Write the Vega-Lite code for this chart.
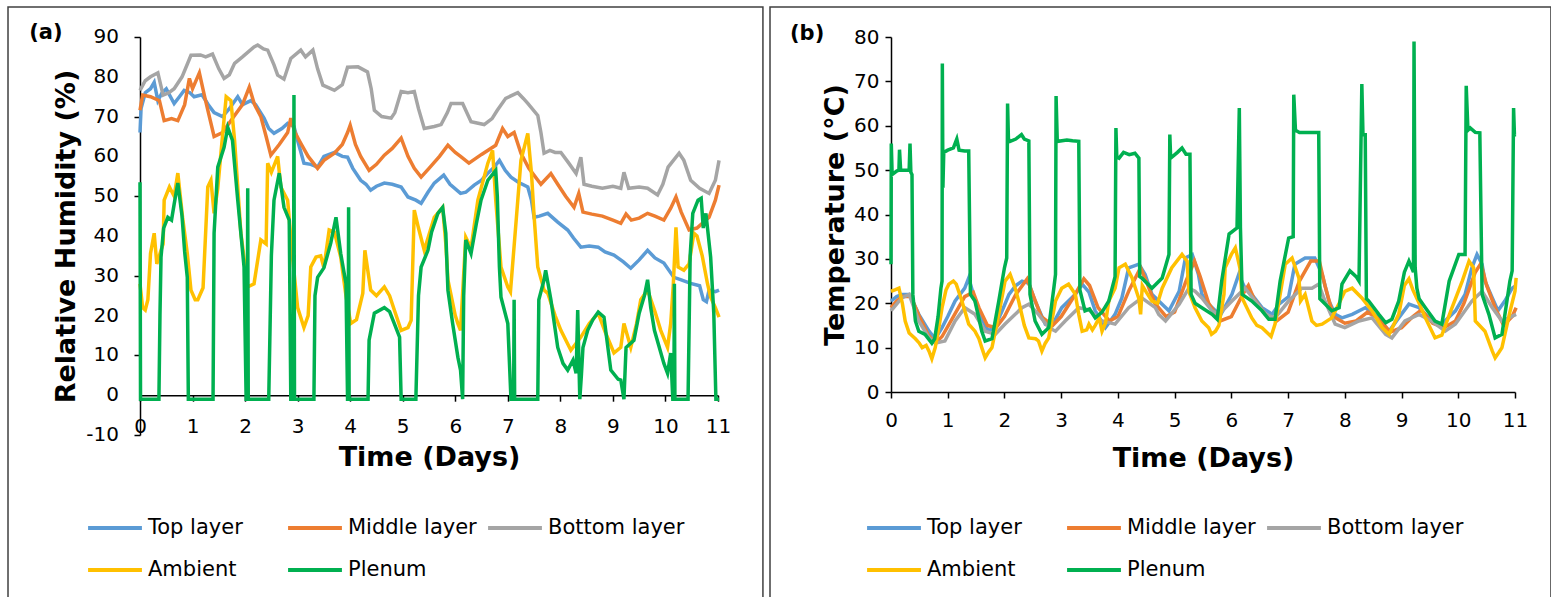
{
"$schema": "https://vega.github.io/schema/vega-lite/v6.json",
"background": "white",
"padding": {"left": 7, "top": 6, "right": 0, "bottom": 0},
"spacing": 5,
"config": {
  "view": {"stroke": null},
  "font": "DejaVu Sans",
  "axis": {"grid": false, "domainColor": "black", "domainWidth": 1.5, "tickColor": "black", "tickWidth": 1.5, "tickSize": 6, "labelOverlap": false,
    "labelFont": "DejaVu Sans", "labelFontSize": 20, "labelColor": "black", "titleFont": "DejaVu Sans", "titleFontSize": 27, "titleFontWeight": "bold", "titleColor": "black"}
},
"resolve": {"legend": {"color": "independent"}},
"datasets": {
"rLab": [{"v":-10,"s":"-10"},{"v":0,"s":"0"},{"v":10,"s":"10"},{"v":20,"s":"20"},{"v":30,"s":"30"},{"v":40,"s":"40"},{"v":50,"s":"50"},{"v":60,"s":"60"},{"v":70,"s":"70"},{"v":80,"s":"80"},{"v":90,"s":"90"}],
"rT": [{"t":0,"v":66},{"t":0.02,"v":72},{"t":0.1,"v":76},{"t":0.2,"v":77},{"t":0.27,"v":78.6},{"t":0.34,"v":74},{"t":0.42,"v":76},{"t":0.5,"v":77},{"t":0.58,"v":75},{"t":0.65,"v":73.3},{"t":0.75,"v":75},{"t":0.84,"v":76.6},{"t":0.95,"v":76},{"t":1.03,"v":75},{"t":1.18,"v":75.5},{"t":1.3,"v":73},{"t":1.41,"v":71},{"t":1.57,"v":70},{"t":1.7,"v":72},{"t":1.86,"v":75},{"t":1.95,"v":73},{"t":2.11,"v":74},{"t":2.2,"v":73},{"t":2.36,"v":69.6},{"t":2.45,"v":67},{"t":2.55,"v":65.8},{"t":2.7,"v":67},{"t":2.81,"v":68.3},{"t":2.93,"v":67.5},{"t":3.0,"v":64},{"t":3.12,"v":58.3},{"t":3.25,"v":58},{"t":3.38,"v":57.3},{"t":3.5,"v":60},{"t":3.7,"v":61},{"t":3.85,"v":60},{"t":3.95,"v":59.8},{"t":4.05,"v":57},{"t":4.2,"v":54},{"t":4.3,"v":53},{"t":4.39,"v":51.5},{"t":4.5,"v":52.5},{"t":4.65,"v":53.3},{"t":4.8,"v":53},{"t":4.97,"v":52.3},{"t":5.1,"v":49.8},{"t":5.25,"v":49},{"t":5.35,"v":48.2},{"t":5.48,"v":51},{"t":5.6,"v":53.3},{"t":5.78,"v":55.3},{"t":5.9,"v":53},{"t":6.1,"v":50.7},{"t":6.2,"v":51},{"t":6.36,"v":52.8},{"t":6.5,"v":54},{"t":6.6,"v":55.5},{"t":6.74,"v":57.3},{"t":6.84,"v":59},{"t":6.95,"v":56.5},{"t":7.06,"v":54.8},{"t":7.2,"v":53.5},{"t":7.38,"v":52.3},{"t":7.45,"v":49},{"t":7.5,"v":44.7},{"t":7.6,"v":45},{"t":7.76,"v":45.7},{"t":7.95,"v":43.5},{"t":8.14,"v":41.5},{"t":8.25,"v":39.5},{"t":8.39,"v":37.2},{"t":8.55,"v":37.5},{"t":8.72,"v":37.2},{"t":8.85,"v":36},{"t":9.02,"v":35.2},{"t":9.2,"v":33.5},{"t":9.34,"v":31.9},{"t":9.5,"v":34},{"t":9.66,"v":36.4},{"t":9.8,"v":34.5},{"t":9.97,"v":33.2},{"t":10.16,"v":29.6},{"t":10.3,"v":29},{"t":10.48,"v":28.1},{"t":10.65,"v":27.5},{"t":10.72,"v":24},{"t":10.78,"v":23.5},{"t":10.83,"v":26.4},{"t":10.95,"v":26},{"t":11.02,"v":26.4}],
"rM": [{"t":0,"v":71.6},{"t":0.05,"v":75.4},{"t":0.2,"v":75},{"t":0.37,"v":74},{"t":0.46,"v":69},{"t":0.6,"v":69.5},{"t":0.72,"v":69},{"t":0.85,"v":73},{"t":0.94,"v":79.6},{"t":1.0,"v":77},{"t":1.13,"v":81},{"t":1.23,"v":75},{"t":1.32,"v":70},{"t":1.41,"v":65},{"t":1.57,"v":66},{"t":1.8,"v":70.3},{"t":1.95,"v":73},{"t":2.08,"v":77.4},{"t":2.18,"v":73},{"t":2.3,"v":70},{"t":2.4,"v":65},{"t":2.49,"v":60.3},{"t":2.65,"v":63},{"t":2.81,"v":66},{"t":2.87,"v":69.6},{"t":2.95,"v":66},{"t":3.06,"v":63.3},{"t":3.2,"v":60},{"t":3.38,"v":57},{"t":3.5,"v":59},{"t":3.7,"v":60.8},{"t":3.85,"v":63},{"t":3.95,"v":66},{"t":4.0,"v":67.8},{"t":4.1,"v":63},{"t":4.2,"v":60},{"t":4.36,"v":56.5},{"t":4.5,"v":58},{"t":4.65,"v":60.3},{"t":4.8,"v":62},{"t":4.97,"v":64.6},{"t":5.1,"v":60},{"t":5.22,"v":57},{"t":5.35,"v":54.8},{"t":5.5,"v":57},{"t":5.7,"v":60},{"t":5.86,"v":62.8},{"t":6.0,"v":61},{"t":6.1,"v":60},{"t":6.26,"v":58.3},{"t":6.5,"v":60.5},{"t":6.77,"v":62.8},{"t":6.9,"v":67},{"t":7.0,"v":65},{"t":7.12,"v":66},{"t":7.25,"v":60.8},{"t":7.4,"v":57},{"t":7.63,"v":53},{"t":7.82,"v":55.7},{"t":7.95,"v":53},{"t":8.1,"v":50},{"t":8.26,"v":47.2},{"t":8.35,"v":50.7},{"t":8.43,"v":46},{"t":8.6,"v":45.5},{"t":8.8,"v":45},{"t":9.0,"v":44},{"t":9.15,"v":43.2},{"t":9.25,"v":45.5},{"t":9.35,"v":44},{"t":9.5,"v":44.5},{"t":9.66,"v":45.7},{"t":9.8,"v":45},{"t":9.97,"v":44},{"t":10.1,"v":47},{"t":10.2,"v":49.8},{"t":10.3,"v":46},{"t":10.45,"v":41.5},{"t":10.6,"v":42},{"t":10.83,"v":44.7},{"t":10.95,"v":49},{"t":11.02,"v":52.8}],
"rB": [{"t":0,"v":76.6},{"t":0.1,"v":79},{"t":0.2,"v":80},{"t":0.34,"v":81},{"t":0.44,"v":75.4},{"t":0.55,"v":76},{"t":0.65,"v":77},{"t":0.8,"v":80},{"t":0.97,"v":85.4},{"t":1.15,"v":85.5},{"t":1.25,"v":85},{"t":1.38,"v":85.7},{"t":1.5,"v":82},{"t":1.6,"v":79.6},{"t":1.7,"v":80.5},{"t":1.8,"v":83.4},{"t":1.95,"v":85},{"t":2.17,"v":87.5},{"t":2.24,"v":88},{"t":2.35,"v":87},{"t":2.43,"v":86.7},{"t":2.55,"v":83},{"t":2.62,"v":80.4},{"t":2.74,"v":79.4},{"t":2.87,"v":84.6},{"t":3.06,"v":86.7},{"t":3.15,"v":85},{"t":3.29,"v":86.7},{"t":3.38,"v":82},{"t":3.48,"v":77.9},{"t":3.7,"v":76.6},{"t":3.85,"v":78},{"t":3.95,"v":82.4},{"t":4.15,"v":82.5},{"t":4.33,"v":81.2},{"t":4.4,"v":77},{"t":4.46,"v":71.6},{"t":4.6,"v":70},{"t":4.78,"v":69.6},{"t":4.85,"v":71},{"t":4.97,"v":76.3},{"t":5.1,"v":76},{"t":5.22,"v":76.3},{"t":5.3,"v":72},{"t":5.41,"v":67},{"t":5.6,"v":67.5},{"t":5.73,"v":68},{"t":5.85,"v":71},{"t":5.92,"v":73.3},{"t":6.14,"v":73.3},{"t":6.3,"v":68.7},{"t":6.55,"v":68},{"t":6.7,"v":69.5},{"t":6.8,"v":71.6},{"t":6.96,"v":74.6},{"t":7.19,"v":76},{"t":7.3,"v":74.5},{"t":7.38,"v":73.3},{"t":7.57,"v":70.3},{"t":7.63,"v":66},{"t":7.69,"v":60.8},{"t":7.8,"v":61.5},{"t":7.9,"v":61},{"t":8.01,"v":61},{"t":8.15,"v":58.5},{"t":8.3,"v":55.7},{"t":8.39,"v":59.8},{"t":8.45,"v":53},{"t":8.6,"v":52.5},{"t":8.8,"v":52},{"t":9.0,"v":52.5},{"t":9.15,"v":52},{"t":9.21,"v":56},{"t":9.3,"v":52},{"t":9.5,"v":52.3},{"t":9.66,"v":52},{"t":9.85,"v":50.3},{"t":9.95,"v":53},{"t":10.05,"v":57.3},{"t":10.26,"v":60.8},{"t":10.35,"v":59},{"t":10.48,"v":54},{"t":10.65,"v":52},{"t":10.83,"v":50.7},{"t":10.95,"v":54},{"t":11.02,"v":59}],
"rA": [{"t":0,"v":28},{"t":0.05,"v":22},{"t":0.1,"v":21.4},{"t":0.15,"v":24},{"t":0.2,"v":35.6},{"t":0.27,"v":40.7},{"t":0.32,"v":33},{"t":0.4,"v":36.4},{"t":0.44,"v":38},{"t":0.46,"v":49},{"t":0.56,"v":52.3},{"t":0.65,"v":50},{"t":0.72,"v":55.8},{"t":0.81,"v":44.7},{"t":0.9,"v":35.6},{"t":0.97,"v":26.4},{"t":1.05,"v":24},{"t":1.1,"v":24},{"t":1.2,"v":27},{"t":1.29,"v":52.3},{"t":1.35,"v":54},{"t":1.41,"v":45.7},{"t":1.48,"v":52},{"t":1.54,"v":60.8},{"t":1.64,"v":75},{"t":1.73,"v":74},{"t":1.8,"v":64},{"t":1.92,"v":40.7},{"t":2.05,"v":27.2},{"t":2.17,"v":28},{"t":2.3,"v":39},{"t":2.4,"v":38},{"t":2.43,"v":58.3},{"t":2.5,"v":56},{"t":2.62,"v":60},{"t":2.68,"v":52.3},{"t":2.81,"v":49},{"t":2.9,"v":35},{"t":3.0,"v":22},{"t":3.12,"v":17},{"t":3.2,"v":20},{"t":3.25,"v":32.2},{"t":3.35,"v":34.7},{"t":3.44,"v":35},{"t":3.5,"v":32},{"t":3.6,"v":41.5},{"t":3.7,"v":41},{"t":3.82,"v":34.7},{"t":3.92,"v":25},{"t":4.01,"v":18},{"t":4.12,"v":19},{"t":4.24,"v":25.6},{"t":4.28,"v":36.4},{"t":4.35,"v":30},{"t":4.39,"v":26.4},{"t":4.5,"v":25},{"t":4.65,"v":27.2},{"t":4.75,"v":25},{"t":4.84,"v":21.4},{"t":4.97,"v":16.3},{"t":5.1,"v":17},{"t":5.16,"v":18.8},{"t":5.22,"v":46.5},{"t":5.3,"v":42},{"t":5.41,"v":36.4},{"t":5.6,"v":44.7},{"t":5.76,"v":47.2},{"t":5.82,"v":38},{"t":5.86,"v":29},{"t":6.0,"v":20},{"t":6.05,"v":18},{"t":6.1,"v":16.3},{"t":6.2,"v":39.7},{"t":6.3,"v":37},{"t":6.43,"v":49},{"t":6.62,"v":58.3},{"t":6.71,"v":61.5},{"t":6.77,"v":49},{"t":6.87,"v":32.2},{"t":7.0,"v":27.2},{"t":7.05,"v":26},{"t":7.19,"v":49},{"t":7.25,"v":59},{"t":7.38,"v":65.8},{"t":7.45,"v":55.8},{"t":7.5,"v":45},{"t":7.57,"v":32.2},{"t":7.69,"v":26.4},{"t":7.76,"v":25.6},{"t":7.9,"v":20},{"t":8.01,"v":16.3},{"t":8.2,"v":11.3},{"t":8.39,"v":14.6},{"t":8.55,"v":18},{"t":8.72,"v":20.6},{"t":8.85,"v":16},{"t":9.02,"v":10.6},{"t":9.15,"v":12},{"t":9.21,"v":18},{"t":9.34,"v":12},{"t":9.45,"v":18},{"t":9.53,"v":24},{"t":9.66,"v":26.4},{"t":9.8,"v":21},{"t":9.91,"v":16.3},{"t":10.04,"v":12},{"t":10.1,"v":18},{"t":10.15,"v":28},{"t":10.2,"v":42.2},{"t":10.24,"v":32.2},{"t":10.35,"v":31.4},{"t":10.45,"v":33},{"t":10.54,"v":40.7},{"t":10.6,"v":40},{"t":10.7,"v":35},{"t":10.8,"v":28},{"t":10.86,"v":24.6},{"t":10.95,"v":22},{"t":11.02,"v":19.6}],
"rP": [{"t":0,"v":53.5},{"t":0.01,"v":-1},{"t":0.36,"v":-1},{"t":0.38,"v":20},{"t":0.4,"v":34.7},{"t":0.45,"v":42},{"t":0.53,"v":44.7},{"t":0.6,"v":44},{"t":0.65,"v":48},{"t":0.72,"v":53.3},{"t":0.8,"v":45},{"t":0.85,"v":36},{"t":0.9,"v":29.6},{"t":0.92,"v":-1},{"t":1.39,"v":-1},{"t":1.41,"v":40.7},{"t":1.48,"v":57.3},{"t":1.6,"v":62.3},{"t":1.67,"v":67.3},{"t":1.76,"v":64},{"t":1.86,"v":49},{"t":1.98,"v":32.2},{"t":2.02,"v":-1},{"t":2.04,"v":-1},{"t":2.05,"v":52},{"t":2.06,"v":-1},{"t":2.45,"v":-1},{"t":2.5,"v":35},{"t":2.55,"v":49},{"t":2.65,"v":55.8},{"t":2.74,"v":47.2},{"t":2.84,"v":44},{"t":2.87,"v":-1},{"t":2.92,"v":-1},{"t":2.93,"v":75.4},{"t":2.94,"v":-1},{"t":3.31,"v":-1},{"t":3.33,"v":25},{"t":3.38,"v":29.6},{"t":3.5,"v":32},{"t":3.63,"v":38.2},{"t":3.73,"v":44.7},{"t":3.82,"v":35.6},{"t":3.92,"v":28},{"t":3.95,"v":-1},{"t":3.96,"v":-1},{"t":3.97,"v":47.2},{"t":3.98,"v":-1},{"t":4.34,"v":-1},{"t":4.36,"v":13.8},{"t":4.46,"v":20.6},{"t":4.65,"v":22},{"t":4.75,"v":21},{"t":4.84,"v":18},{"t":4.94,"v":14.6},{"t":4.97,"v":-1},{"t":5.25,"v":-1},{"t":5.3,"v":25},{"t":5.35,"v":32.2},{"t":5.48,"v":36.4},{"t":5.55,"v":41},{"t":5.67,"v":45.7},{"t":5.76,"v":47.2},{"t":5.82,"v":40.7},{"t":5.86,"v":26.4},{"t":5.95,"v":18},{"t":6.05,"v":9.5},{"t":6.1,"v":6.3},{"t":6.14,"v":-1},{"t":6.16,"v":25},{"t":6.2,"v":39},{"t":6.3,"v":35.6},{"t":6.4,"v":43},{"t":6.49,"v":49},{"t":6.62,"v":54},{"t":6.77,"v":56.5},{"t":6.8,"v":50},{"t":6.84,"v":32.2},{"t":6.87,"v":24.6},{"t":7.0,"v":18},{"t":7.06,"v":-1},{"t":7.11,"v":-1},{"t":7.12,"v":24},{"t":7.13,"v":-1},{"t":7.57,"v":-1},{"t":7.59,"v":24},{"t":7.69,"v":29},{"t":7.72,"v":31.4},{"t":7.82,"v":24},{"t":7.95,"v":12},{"t":8.05,"v":8},{"t":8.14,"v":6.3},{"t":8.24,"v":8.8},{"t":8.3,"v":5.5},{"t":8.33,"v":21.4},{"t":8.37,"v":-1},{"t":8.4,"v":5},{"t":8.43,"v":12},{"t":8.52,"v":16.3},{"t":8.62,"v":19},{"t":8.72,"v":20.9},{"t":8.83,"v":19.6},{"t":8.96,"v":6.3},{"t":9.1,"v":4},{"t":9.15,"v":3.8},{"t":9.21,"v":-1},{"t":9.25,"v":12},{"t":9.4,"v":13.8},{"t":9.5,"v":20.6},{"t":9.6,"v":25},{"t":9.66,"v":29},{"t":9.72,"v":22},{"t":9.79,"v":16.3},{"t":9.97,"v":8},{"t":10.04,"v":5.5},{"t":10.1,"v":10.6},{"t":10.14,"v":-1},{"t":10.16,"v":-1},{"t":10.17,"v":28},{"t":10.18,"v":-1},{"t":10.43,"v":-1},{"t":10.47,"v":35},{"t":10.52,"v":45.7},{"t":10.62,"v":49},{"t":10.68,"v":49.5},{"t":10.72,"v":42},{"t":10.77,"v":45.7},{"t":10.86,"v":34.7},{"t":10.92,"v":20.6},{"t":10.96,"v":-1},{"t":11.02,"v":-1}],
"tT": [{"t":0,"v":20.5},{"t":0.1,"v":21.5},{"t":0.19,"v":22},{"t":0.32,"v":22},{"t":0.4,"v":20},{"t":0.49,"v":17.5},{"t":0.67,"v":13.7},{"t":0.78,"v":12},{"t":0.9,"v":14.5},{"t":1.0,"v":17},{"t":1.13,"v":20.5},{"t":1.3,"v":23.4},{"t":1.37,"v":25.7},{"t":1.43,"v":23},{"t":1.55,"v":17.5},{"t":1.72,"v":13.7},{"t":1.84,"v":15},{"t":1.95,"v":18},{"t":2.08,"v":22},{"t":2.2,"v":24},{"t":2.31,"v":25},{"t":2.43,"v":24.5},{"t":2.54,"v":20.5},{"t":2.72,"v":15.3},{"t":2.84,"v":15},{"t":3.01,"v":19},{"t":3.25,"v":22},{"t":3.37,"v":24.3},{"t":3.49,"v":22.5},{"t":3.6,"v":18.3},{"t":3.78,"v":14.5},{"t":3.95,"v":17.5},{"t":4.07,"v":21.2},{"t":4.19,"v":28},{"t":4.3,"v":28.5},{"t":4.37,"v":28.8},{"t":4.48,"v":26.5},{"t":4.6,"v":22},{"t":4.72,"v":20.5},{"t":4.9,"v":18.3},{"t":5.08,"v":22.7},{"t":5.19,"v":30.2},{"t":5.31,"v":31},{"t":5.42,"v":26.5},{"t":5.48,"v":22},{"t":5.6,"v":19.8},{"t":5.72,"v":18.3},{"t":5.78,"v":16.7},{"t":6.01,"v":22},{"t":6.13,"v":26.5},{"t":6.24,"v":23.4},{"t":6.36,"v":22},{"t":6.54,"v":19},{"t":6.72,"v":17.5},{"t":6.84,"v":19.8},{"t":7.01,"v":21.5},{"t":7.12,"v":28.8},{"t":7.3,"v":30.2},{"t":7.47,"v":30.2},{"t":7.6,"v":26.5},{"t":7.72,"v":20.5},{"t":7.83,"v":17.5},{"t":7.95,"v":16.7},{"t":8.13,"v":17.5},{"t":8.36,"v":19},{"t":8.6,"v":16.7},{"t":8.78,"v":13.7},{"t":8.95,"v":16.7},{"t":9.13,"v":19.8},{"t":9.31,"v":19},{"t":9.53,"v":16},{"t":9.71,"v":15.3},{"t":9.95,"v":18.3},{"t":10.12,"v":22},{"t":10.24,"v":28},{"t":10.33,"v":31},{"t":10.42,"v":28.8},{"t":10.47,"v":25},{"t":10.6,"v":21.2},{"t":10.7,"v":18.3},{"t":10.82,"v":20.5},{"t":10.95,"v":23.4},{"t":11.02,"v":24}],
"tM": [{"t":0,"v":19},{"t":0.1,"v":20.5},{"t":0.2,"v":21.5},{"t":0.35,"v":21.5},{"t":0.5,"v":17},{"t":0.65,"v":13},{"t":0.78,"v":11},{"t":0.9,"v":12.5},{"t":1.1,"v":17},{"t":1.3,"v":21.5},{"t":1.45,"v":22.5},{"t":1.55,"v":19},{"t":1.7,"v":15},{"t":1.85,"v":14.5},{"t":2.0,"v":17},{"t":2.2,"v":22},{"t":2.4,"v":25.5},{"t":2.5,"v":22},{"t":2.65,"v":17},{"t":2.85,"v":15},{"t":3.0,"v":17},{"t":3.2,"v":21},{"t":3.4,"v":25.5},{"t":3.5,"v":24},{"t":3.65,"v":19},{"t":3.85,"v":16},{"t":4.0,"v":17},{"t":4.2,"v":23},{"t":4.4,"v":28},{"t":4.5,"v":25},{"t":4.65,"v":20},{"t":4.85,"v":17},{"t":5.0,"v":18},{"t":5.2,"v":25},{"t":5.35,"v":29.5},{"t":5.45,"v":26},{"t":5.6,"v":20},{"t":5.8,"v":16},{"t":6.0,"v":17},{"t":6.2,"v":22},{"t":6.3,"v":24},{"t":6.4,"v":21},{"t":6.6,"v":17.5},{"t":6.8,"v":16},{"t":7.0,"v":18},{"t":7.2,"v":25},{"t":7.4,"v":29.5},{"t":7.55,"v":29.5},{"t":7.65,"v":24},{"t":7.8,"v":17},{"t":8.0,"v":15.5},{"t":8.2,"v":16},{"t":8.4,"v":18},{"t":8.6,"v":16.5},{"t":8.8,"v":13.5},{"t":9.0,"v":14.5},{"t":9.2,"v":17},{"t":9.35,"v":18.5},{"t":9.55,"v":15.5},{"t":9.75,"v":14.5},{"t":9.95,"v":16},{"t":10.1,"v":20},{"t":10.3,"v":27},{"t":10.4,"v":29},{"t":10.5,"v":24},{"t":10.65,"v":19},{"t":10.8,"v":15},{"t":10.95,"v":17},{"t":11.02,"v":19}],
"tB": [{"t":0,"v":18.3},{"t":0.19,"v":21.2},{"t":0.32,"v":22},{"t":0.49,"v":16},{"t":0.67,"v":12.2},{"t":0.78,"v":11},{"t":0.95,"v":11.5},{"t":1.13,"v":16},{"t":1.3,"v":19},{"t":1.48,"v":17.5},{"t":1.66,"v":13.7},{"t":1.84,"v":13},{"t":2.01,"v":15.3},{"t":2.31,"v":19},{"t":2.43,"v":19.8},{"t":2.6,"v":17.5},{"t":2.78,"v":14.5},{"t":2.9,"v":13.7},{"t":3.07,"v":16},{"t":3.31,"v":19},{"t":3.49,"v":18.5},{"t":3.72,"v":16},{"t":3.95,"v":15.3},{"t":4.19,"v":19},{"t":4.42,"v":21.2},{"t":4.66,"v":19},{"t":4.72,"v":17.5},{"t":4.84,"v":16},{"t":5.08,"v":19.8},{"t":5.25,"v":23.4},{"t":5.36,"v":22.7},{"t":5.48,"v":21.2},{"t":5.66,"v":18.3},{"t":5.78,"v":17.5},{"t":6.01,"v":20.5},{"t":6.24,"v":23.4},{"t":6.42,"v":20.5},{"t":6.6,"v":17.5},{"t":6.77,"v":16.7},{"t":7.01,"v":20.5},{"t":7.24,"v":23.4},{"t":7.42,"v":23.4},{"t":7.54,"v":24.3},{"t":7.65,"v":20.5},{"t":7.83,"v":15.3},{"t":8.0,"v":14.5},{"t":8.25,"v":16},{"t":8.48,"v":16.7},{"t":8.72,"v":13},{"t":8.83,"v":12.2},{"t":9.06,"v":16},{"t":9.31,"v":17.5},{"t":9.53,"v":16},{"t":9.77,"v":13.7},{"t":9.95,"v":15.3},{"t":10.24,"v":20.5},{"t":10.42,"v":22.7},{"t":10.6,"v":19},{"t":10.77,"v":16},{"t":11.02,"v":17.5}],
"tA": [{"t":0,"v":22.7},{"t":0.07,"v":23},{"t":0.14,"v":23.4},{"t":0.2,"v":20},{"t":0.25,"v":16},{"t":0.32,"v":13.3},{"t":0.43,"v":12},{"t":0.5,"v":11},{"t":0.55,"v":10},{"t":0.62,"v":10.5},{"t":0.67,"v":9.2},{"t":0.72,"v":7.5},{"t":0.78,"v":10},{"t":0.85,"v":15},{"t":0.9,"v":19},{"t":0.97,"v":23},{"t":1.02,"v":24.3},{"t":1.1,"v":25},{"t":1.15,"v":24.3},{"t":1.25,"v":20.5},{"t":1.37,"v":15.3},{"t":1.48,"v":13.7},{"t":1.55,"v":12},{"t":1.6,"v":10},{"t":1.66,"v":7.7},{"t":1.72,"v":9},{"t":1.78,"v":10},{"t":1.9,"v":17.5},{"t":2.01,"v":25},{"t":2.1,"v":26.5},{"t":2.19,"v":23.4},{"t":2.25,"v":20.5},{"t":2.35,"v":15},{"t":2.43,"v":12.2},{"t":2.55,"v":12},{"t":2.6,"v":11.5},{"t":2.66,"v":9.2},{"t":2.72,"v":11},{"t":2.78,"v":12.2},{"t":2.9,"v":20.5},{"t":3.01,"v":23.4},{"t":3.13,"v":24.3},{"t":3.25,"v":22},{"t":3.31,"v":17.5},{"t":3.37,"v":13.7},{"t":3.45,"v":14},{"t":3.49,"v":15.3},{"t":3.55,"v":14},{"t":3.6,"v":15},{"t":3.67,"v":16.7},{"t":3.72,"v":13.7},{"t":3.78,"v":15.5},{"t":3.84,"v":20.5},{"t":3.95,"v":23.4},{"t":4.02,"v":28},{"t":4.13,"v":28.8},{"t":4.25,"v":25.7},{"t":4.37,"v":21},{"t":4.4,"v":17.5},{"t":4.43,"v":24},{"t":4.5,"v":22.5},{"t":4.6,"v":20.5},{"t":4.7,"v":20},{"t":4.78,"v":23.4},{"t":4.95,"v":28},{"t":5.13,"v":31},{"t":5.22,"v":29.5},{"t":5.25,"v":22.7},{"t":5.36,"v":19},{"t":5.48,"v":16},{"t":5.6,"v":14.5},{"t":5.65,"v":13},{"t":5.72,"v":13.7},{"t":5.78,"v":15},{"t":5.87,"v":22},{"t":5.89,"v":28},{"t":6.0,"v":31},{"t":6.07,"v":32.5},{"t":6.15,"v":28},{"t":6.19,"v":21.2},{"t":6.36,"v":16.7},{"t":6.45,"v":15},{"t":6.54,"v":14.5},{"t":6.66,"v":13},{"t":6.7,"v":12.5},{"t":6.77,"v":15.3},{"t":6.86,"v":22},{"t":6.95,"v":28.8},{"t":7.07,"v":30.2},{"t":7.19,"v":25.7},{"t":7.22,"v":20.5},{"t":7.3,"v":22},{"t":7.42,"v":16},{"t":7.5,"v":15},{"t":7.6,"v":15.3},{"t":7.77,"v":16.7},{"t":7.9,"v":20},{"t":8.0,"v":22.7},{"t":8.13,"v":23.4},{"t":8.3,"v":21.2},{"t":8.48,"v":18.3},{"t":8.66,"v":14.5},{"t":8.78,"v":13},{"t":8.95,"v":17.5},{"t":9.05,"v":24},{"t":9.13,"v":25.5},{"t":9.2,"v":23},{"t":9.31,"v":20},{"t":9.42,"v":16.7},{"t":9.59,"v":12.2},{"t":9.71,"v":12.8},{"t":9.89,"v":19},{"t":10.07,"v":25},{"t":10.19,"v":29.5},{"t":10.27,"v":28},{"t":10.3,"v":16},{"t":10.47,"v":13.7},{"t":10.6,"v":9.2},{"t":10.65,"v":7.7},{"t":10.72,"v":9},{"t":10.77,"v":10},{"t":10.9,"v":17.5},{"t":11.0,"v":22.7},{"t":11.02,"v":25.7}],
"tP": [{"t":0,"v":28.8},{"t":0.005,"v":56},{"t":0.02,"v":49},{"t":0.1,"v":49.8},{"t":0.14,"v":50},{"t":0.15,"v":54.6},{"t":0.17,"v":50},{"t":0.25,"v":50},{"t":0.32,"v":50},{"t":0.335,"v":56},{"t":0.35,"v":49.5},{"t":0.37,"v":49},{"t":0.385,"v":22},{"t":0.43,"v":16},{"t":0.49,"v":13.7},{"t":0.6,"v":13},{"t":0.72,"v":11},{"t":0.77,"v":12},{"t":0.83,"v":17},{"t":0.88,"v":23.4},{"t":0.9,"v":25},{"t":0.905,"v":74},{"t":0.915,"v":46},{"t":0.93,"v":54},{"t":1.0,"v":54.5},{"t":1.1,"v":55},{"t":1.16,"v":57},{"t":1.2,"v":54.5},{"t":1.3,"v":54.3},{"t":1.37,"v":54.3},{"t":1.4,"v":22},{"t":1.48,"v":20.5},{"t":1.6,"v":13.7},{"t":1.66,"v":11.5},{"t":1.78,"v":12},{"t":1.9,"v":20.5},{"t":1.96,"v":25},{"t":2.0,"v":28},{"t":2.04,"v":30.2},{"t":2.055,"v":65},{"t":2.07,"v":57},{"t":2.1,"v":56.5},{"t":2.2,"v":57},{"t":2.3,"v":58},{"t":2.35,"v":57},{"t":2.43,"v":56.6},{"t":2.45,"v":22},{"t":2.54,"v":16},{"t":2.66,"v":13},{"t":2.78,"v":14.5},{"t":2.87,"v":23.4},{"t":2.9,"v":26.5},{"t":2.91,"v":66.7},{"t":2.93,"v":57},{"t":2.95,"v":56.5},{"t":3.1,"v":56.8},{"t":3.2,"v":56.6},{"t":3.31,"v":56.5},{"t":3.33,"v":23},{"t":3.42,"v":18.3},{"t":3.5,"v":18.7},{"t":3.6,"v":16.7},{"t":3.72,"v":18},{"t":3.84,"v":20.5},{"t":3.95,"v":26},{"t":3.965,"v":59.5},{"t":3.98,"v":53},{"t":4.02,"v":52.7},{"t":4.1,"v":54},{"t":4.2,"v":53.5},{"t":4.3,"v":53.8},{"t":4.37,"v":52.7},{"t":4.385,"v":26},{"t":4.42,"v":25.7},{"t":4.6,"v":23.4},{"t":4.78,"v":25.7},{"t":4.9,"v":31},{"t":4.915,"v":58},{"t":4.93,"v":52.7},{"t":5.05,"v":54},{"t":5.13,"v":55},{"t":5.2,"v":53.6},{"t":5.27,"v":53.6},{"t":5.29,"v":22},{"t":5.36,"v":20},{"t":5.48,"v":19},{"t":5.66,"v":17.5},{"t":5.75,"v":16.4},{"t":5.83,"v":25},{"t":5.96,"v":35.6},{"t":6.1,"v":37},{"t":6.14,"v":64},{"t":6.16,"v":37},{"t":6.19,"v":22},{"t":6.36,"v":20.5},{"t":6.54,"v":18.3},{"t":6.66,"v":16.4},{"t":6.77,"v":16.4},{"t":6.86,"v":25},{"t":7.01,"v":34.7},{"t":7.09,"v":35},{"t":7.1,"v":67},{"t":7.13,"v":59},{"t":7.2,"v":58.5},{"t":7.37,"v":58.5},{"t":7.54,"v":58.5},{"t":7.56,"v":21},{"t":7.6,"v":20.5},{"t":7.77,"v":18.3},{"t":7.9,"v":19},{"t":7.95,"v":24.3},{"t":8.09,"v":27.3},{"t":8.2,"v":26},{"t":8.25,"v":25},{"t":8.3,"v":69.4},{"t":8.32,"v":58},{"t":8.36,"v":58},{"t":8.38,"v":21},{"t":8.42,"v":20.5},{"t":8.6,"v":17.5},{"t":8.72,"v":15.6},{"t":8.83,"v":16.4},{"t":8.95,"v":20.5},{"t":9.05,"v":27},{"t":9.13,"v":29.5},{"t":9.21,"v":27},{"t":9.22,"v":79},{"t":9.24,"v":28},{"t":9.27,"v":23.4},{"t":9.31,"v":21},{"t":9.42,"v":19},{"t":9.59,"v":16},{"t":9.71,"v":15.3},{"t":9.84,"v":25},{"t":10.01,"v":31},{"t":10.12,"v":31},{"t":10.14,"v":69},{"t":10.17,"v":59},{"t":10.21,"v":59.5},{"t":10.3,"v":58.5},{"t":10.38,"v":58.4},{"t":10.42,"v":22},{"t":10.54,"v":17.5},{"t":10.65,"v":12.2},{"t":10.77,"v":13},{"t":10.91,"v":25},{"t":10.95,"v":27.3},{"t":10.975,"v":64},{"t":10.99,"v":58},{"t":11.02,"v":58}]
},
"hconcat": [
{
  "width": 578, "height": 398,
  "layer": [
    {"data": {"name": "rT"}, "mark": {"type": "line", "strokeWidth": 3.5},
     "encoding": {
       "x": {"field": "t", "type": "quantitative", "scale": {"domain": [0, 11], "nice": false, "zero": false},
         "axis": {"title": "Time (Days)", "values": [0,1,2,3,4,5,6,7,8,9,10,11], "labelExpr": "'' + datum.value", "labelOverlap": false, "offset": -39.8, "labelPadding": 15, "titlePadding": 8, "labelFlush": false}},
       "y": {"field": "v", "type": "quantitative", "scale": {"domain": [-10, 90], "nice": false, "zero": false},
         "axis": {"title": "Relative Humidity (%)", "values": [-10,0,10,20,30,40,50,60,70,80,90], "labels": false, "titlePadding": 53}},
       "color": {"datum": "Top layer", "type": "nominal", "scale": {"domain": ["Top layer","Middle layer","Bottom layer","Ambient","Plenum"], "range": ["#5B9BD5","#ED7D31","#A5A5A5","#FFC000","#00B050"]},
       "legend": {"title": null, "orient": "none", "legendX": -54, "legendY": 462, "direction": "horizontal", "columns": 3, "gridAlign": "all", "symbolType": "stroke", "symbolSize": 2900, "symbolStrokeWidth": 4, "labelFont": "DejaVu Sans", "labelFontSize": 21, "labelColor": "black", "labelOffset": 4, "columnPadding": -5, "rowPadding": 3, "labelLimit": 300}}}},
    {"data": {"name": "rM"}, "mark": {"type": "line", "strokeWidth": 3.5}, "encoding": {"x": {"field": "t", "type": "quantitative"}, "y": {"field": "v", "type": "quantitative"}, "color": {"datum": "Middle layer", "type": "nominal"}}},
    {"data": {"name": "rB"}, "mark": {"type": "line", "strokeWidth": 3.5}, "encoding": {"x": {"field": "t", "type": "quantitative"}, "y": {"field": "v", "type": "quantitative"}, "color": {"datum": "Bottom layer", "type": "nominal"}}},
    {"data": {"name": "rA"}, "mark": {"type": "line", "strokeWidth": 3.5}, "encoding": {"x": {"field": "t", "type": "quantitative"}, "y": {"field": "v", "type": "quantitative"}, "color": {"datum": "Ambient", "type": "nominal"}}},
    {"data": {"name": "rP"}, "mark": {"type": "line", "strokeWidth": 3.5}, "encoding": {"x": {"field": "t", "type": "quantitative"}, "y": {"field": "v", "type": "quantitative"}, "color": {"datum": "Plenum", "type": "nominal"}}},
    {"data": {"values": [{}]}, "mark": {"type": "rect", "filled": false, "stroke": "#404040", "strokeWidth": 1.5, "clip": false},
     "encoding": {
       "x": {"datum": -2.512, "type": "quantitative", "axis": {"title": "Time (Days)", "values": [0,1,2,3,4,5,6,7,8,9,10,11], "labelExpr": "'' + datum.value", "labelOverlap": false, "offset": -39.8, "labelPadding": 15, "titlePadding": 8, "labelFlush": false}},
       "x2": {"datum": 11.855},
       "y": {"datum": 97.54, "type": "quantitative", "axis": {"title": "Relative Humidity (%)", "values": [-10,0,10,20,30,40,50,60,70,80,90], "labels": false, "titlePadding": 53}},
       "y2": {"datum": -56.5}}},
    {"data": {"values": [{}]}, "mark": {"type": "text", "align": "left", "baseline": "middle", "fontSize": 21, "fontWeight": "bold", "font": "DejaVu Sans", "color": "black", "clip": false},
     "encoding": {
       "x": {"datum": -2.11, "type": "quantitative", "axis": {"title": "Time (Days)", "values": [0,1,2,3,4,5,6,7,8,9,10,11], "labelExpr": "'' + datum.value", "labelOverlap": false, "offset": -39.8, "labelPadding": 15, "titlePadding": 8, "labelFlush": false}},
       "y": {"datum": 90.95, "type": "quantitative", "axis": {"title": "Relative Humidity (%)", "values": [-10,0,10,20,30,40,50,60,70,80,90], "labels": false, "titlePadding": 53}},
       "text": {"value": "(a)"}}},
    {"data": {"name": "rLab"}, "mark": {"type": "text", "align": "right", "baseline": "middle", "fontSize": 20, "font": "DejaVu Sans", "color": "black", "clip": false},
     "encoding": {
       "x": {"datum": -0.4, "type": "quantitative", "axis": {"title": "Time (Days)", "values": [0,1,2,3,4,5,6,7,8,9,10,11], "labelExpr": "'' + datum.value", "labelOverlap": false, "offset": -39.8, "labelPadding": 15, "titlePadding": 8, "labelFlush": false}},
       "y": {"field": "v", "type": "quantitative", "axis": {"title": "Relative Humidity (%)", "values": [-10,0,10,20,30,40,50,60,70,80,90], "labels": false, "titlePadding": 53}},
       "text": {"field": "s", "type": "nominal"}}}
  ]
},
{
  "width": 624, "height": 355,
  "layer": [
    {"data": {"name": "tT"}, "mark": {"type": "line", "strokeWidth": 3.5},
     "encoding": {
       "x": {"field": "t", "type": "quantitative", "scale": {"domain": [0, 11], "nice": false, "zero": false},
         "axis": {"title": "Time (Days)", "values": [0,1,2,3,4,5,6,7,8,9,10,11], "labelExpr": "'' + datum.value", "labelOverlap": false, "labelPadding": 12, "titlePadding": 15, "labelFlush": false}},
       "y": {"field": "v", "type": "quantitative", "scale": {"domain": [0, 80], "nice": false, "zero": false},
         "axis": {"title": "Temperature (°C)", "values": [0,10,20,30,40,50,60,70,80], "labelExpr": "'' + datum.value", "labelOverlap": false, "labelPadding": 6, "titlePadding": 4}},
       "color": {"datum": "Top layer", "type": "nominal", "scale": {"domain": ["Top layer","Middle layer","Bottom layer","Ambient","Plenum"], "range": ["#5B9BD5","#ED7D31","#A5A5A5","#FFC000","#00B050"]},
       "legend": {"title": null, "orient": "none", "legendX": -26, "legendY": 462, "direction": "horizontal", "columns": 3, "gridAlign": "all", "symbolType": "stroke", "symbolSize": 2900, "symbolStrokeWidth": 4, "labelFont": "DejaVu Sans", "labelFontSize": 21, "labelColor": "black", "labelOffset": 4, "columnPadding": -5, "rowPadding": 3, "labelLimit": 300}}}},
    {"data": {"name": "tM"}, "mark": {"type": "line", "strokeWidth": 3.5}, "encoding": {"x": {"field": "t", "type": "quantitative"}, "y": {"field": "v", "type": "quantitative"}, "color": {"datum": "Middle layer", "type": "nominal"}}},
    {"data": {"name": "tB"}, "mark": {"type": "line", "strokeWidth": 3.5}, "encoding": {"x": {"field": "t", "type": "quantitative"}, "y": {"field": "v", "type": "quantitative"}, "color": {"datum": "Bottom layer", "type": "nominal"}}},
    {"data": {"name": "tA"}, "mark": {"type": "line", "strokeWidth": 3.5}, "encoding": {"x": {"field": "t", "type": "quantitative"}, "y": {"field": "v", "type": "quantitative"}, "color": {"datum": "Ambient", "type": "nominal"}}},
    {"data": {"name": "tP"}, "mark": {"type": "line", "strokeWidth": 3.5}, "encoding": {"x": {"field": "t", "type": "quantitative"}, "y": {"field": "v", "type": "quantitative"}, "color": {"datum": "Plenum", "type": "nominal"}}},
    {"data": {"values": [{}]}, "mark": {"type": "rect", "filled": false, "stroke": "#404040", "strokeWidth": 1.5, "clip": false},
     "encoding": {"x": {"datum": -2.133, "type": "quantitative"}, "x2": {"datum": 11.634}, "y": {"datum": 86.76, "type": "quantitative"}, "y2": {"datum": -51.6}}},
    {"data": {"values": [{}]}, "mark": {"type": "text", "align": "left", "baseline": "middle", "fontSize": 21, "fontWeight": "bold", "font": "DejaVu Sans", "color": "black", "clip": false},
     "encoding": {"x": {"datum": -1.78, "type": "quantitative"}, "y": {"datum": 80.68, "type": "quantitative"}, "text": {"value": "(b)"}}}
  ]
}
]
}
